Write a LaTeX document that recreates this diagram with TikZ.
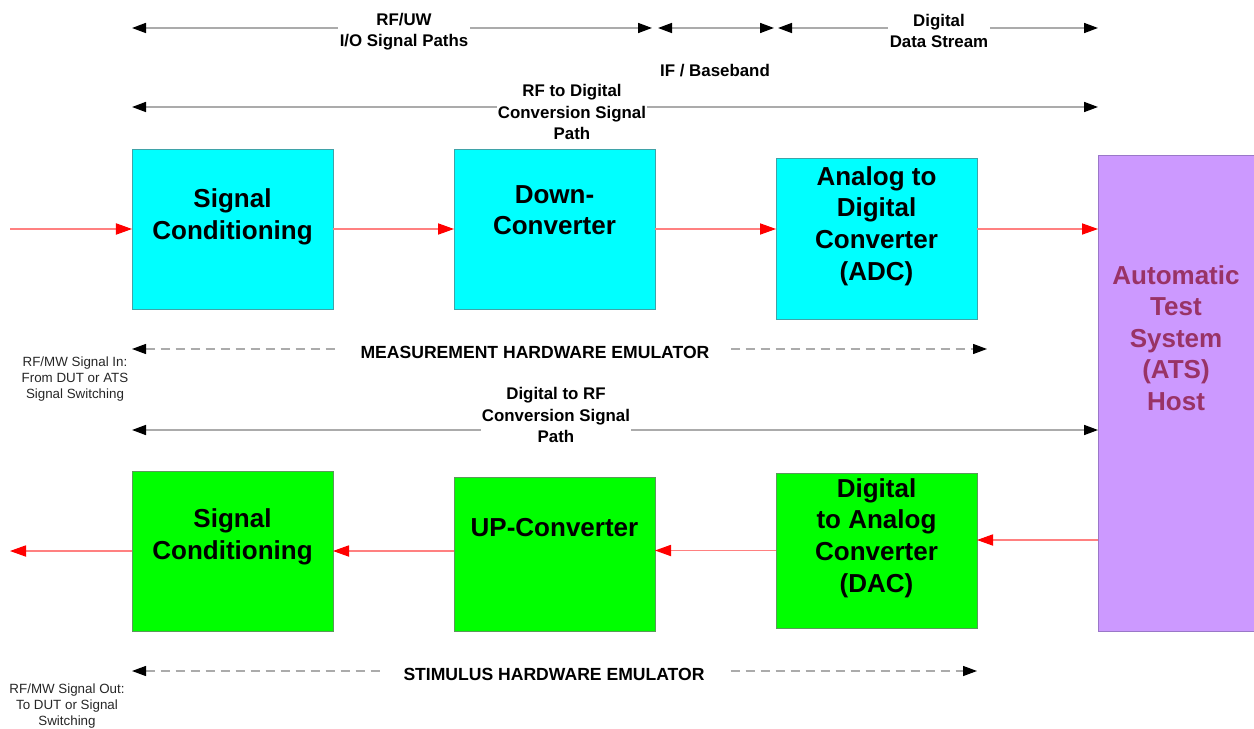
\documentclass[tikz,border=0pt]{standalone}
\usepackage{fontspec}
\setmainfont{Liberation Sans}
\usetikzlibrary{arrows.meta}

\definecolor{dspcyan}{HTML}{00FFFF}
\definecolor{dspcyanedge}{HTML}{3FA3A8}
\definecolor{dspgreen}{HTML}{00FF00}
\definecolor{dspgreenedge}{HTML}{5A9A5A}
\definecolor{atsfill}{HTML}{CC99FF}
\definecolor{atsedge}{HTML}{9A78C8}
\definecolor{atstext}{HTML}{993366}
\definecolor{sigline}{HTML}{FF8080}
\definecolor{spanline}{HTML}{ABABAB}

\begin{document}
\begin{tikzpicture}[x=0.25mm,y=-0.25mm,
    blk/.style={line width=0.6pt, inner sep=0pt, outer sep=0pt, minimum width=50.25mm},
    rxblk/.style={blk, draw=dspcyanedge, fill=dspcyan},
    txblk/.style={blk, draw=dspgreenedge, fill=dspgreen},
    blktxt/.style={font=\fontsize{18.5}{22.5}\selectfont\bfseries, align=center, inner sep=0pt},
    lbl/.style={font=\fontsize{12}{15}\selectfont\bfseries, align=center, fill=white, inner sep=1pt},
    emulbl/.style={font=\fontsize{12.5}{15}\selectfont\bfseries, fill=white, inner xsep=5.5mm, inner ysep=1pt},
    side/.style={font=\fontsize{9.5}{11.4}\selectfont, text=black!85, align=center},
    sig/.style={draw=sigline, line width=0.8pt, -{Triangle[length=4mm,width=2.8mm,color=red]}},
    span/.style={draw=spanline, line width=1.1pt,
      {Triangle[length=3.5mm,width=2.5mm,color=black]}-{Triangle[length=3.5mm,width=2.5mm,color=black]}},
    emu/.style={span, line width=0.9pt, dash pattern=on 2.25mm off 1.5mm}]

  \useasboundingbox (0,0) rectangle (1254,729);

  % measurement chain
  \node[rxblk, minimum height=40mm] (scin) at (232.5,229) {};
  \node[rxblk, minimum height=40mm] (dcv) at (554.5,229) {};
  \node[rxblk, minimum height=40.25mm] (adc) at (876.5,238.5) {};
  \node[blktxt] (scin-t) at (232.5,217) {Signal\\Conditioning};
  \node[blktxt] (dcv-t) at (554.5,210) {Down-\\Converter};
  \node[blktxt] (adc-t) at (876.5,226) {Analog to\\Digital\\Converter\\(ADC)};

  % stimulus chain
  \node[txblk, minimum height=40mm] (scout) at (232.5,551) {};
  \node[txblk, minimum height=38.5mm] (ucv) at (554.5,554) {};
  \node[txblk, minimum height=38.75mm] (dac) at (876.5,550.5) {};
  \node[blktxt] (scout-t) at (232.5,537) {Signal\\Conditioning};
  \node[blktxt] (ucv-t) at (554.5,528) {UP-Converter};
  \node[blktxt] (dac-t) at (876.5,538) {Digital\\to Analog\\Converter\\(DAC)};

  % host, runs off the right edge
  \node[draw=atsedge, fill=atsfill, line width=0.6pt, inner sep=0pt, outer sep=0pt,
    minimum width=44mm, minimum height=119mm] (ats) at (1186,393) {};
  \node[blktxt, text=atstext] (ats-t) at (1176,338) {Automatic\\Test\\System\\(ATS)\\Host};

  % signal flow
  \coordinate (in) at (10,229);
  \coordinate (out) at (10,551);
  \coordinate (atsout) at (1098,540);
  \draw[sig] (in) to (scin);
  \draw[sig] (scin) to (dcv);
  \draw[sig] (dcv) to (dcv -| adc.west);
  \draw[sig] (dcv -| adc.east) to (dcv -| ats.west);
  \draw[sig] (atsout) to (atsout -| dac.east);
  \draw[sig] (dac.west) to (dac.west -| ucv.east);
  \draw[sig] (scout -| ucv.west) to (scout);
  \draw[sig] (scout) to (out);

  % signal path spans
  \coordinate (a1) at (132,28);
  \coordinate (a2) at (652,28);
  \coordinate (b1) at (658,28);
  \coordinate (b2) at (774,28);
  \coordinate (c1) at (778,28);
  \coordinate (c2) at (1098,28);
  \coordinate (r2dl) at (132,107);
  \coordinate (r2dr) at (1098,107);
  \coordinate (d2rl) at (132,430);
  \coordinate (d2rr) at (1098,430);
  \coordinate (measl) at (132,349);
  \coordinate (measr) at (987,349);
  \coordinate (stiml) at (132,671);
  \coordinate (stimr) at (977,671);

  \draw[span] (a1) to (a2);
  \draw[span] (b1) to (b2);
  \draw[span] (c1) to (c2);
  \draw[span] (r2dl) to (r2dr);
  \draw[span] (d2rl) to (d2rr);
  \draw[emu] (measl) to (measr);
  \draw[emu] (stiml) to (stimr);

  \node[lbl] (rfuw) at (404,32) {RF/UW\\I/O Signal Paths};
  \node[lbl] (ifbb) at (715,71) {IF / Baseband};
  \node[lbl] (dds) at (939,31) {Digital\\Data Stream};
  \node[lbl] (r2d) at (572,112) {RF to Digital\\Conversion Signal\\Path};
  \node[lbl] (d2r) at (556,415) {Digital to RF\\Conversion Signal\\Path};
  \node[emulbl] (meas) at (535,352) {MEASUREMENT HARDWARE EMULATOR};
  \node[emulbl] (stim) at (554,674) {STIMULUS HARDWARE EMULATOR};

  \node[side] (sigin) at (75,379) {RF/MW Signal In:\\From DUT or ATS\\Signal Switching};
  \node[side] (sigout) at (67,706) {RF/MW Signal Out:\\To DUT or Signal\\Switching};
\end{tikzpicture}
\end{document}
